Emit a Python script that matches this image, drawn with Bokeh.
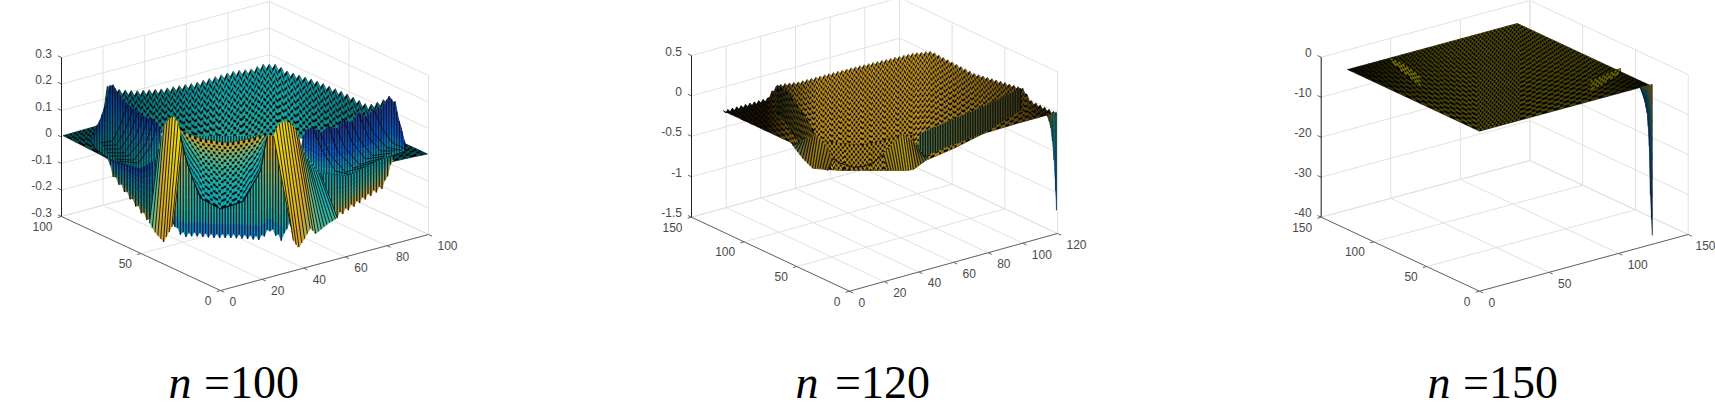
from bokeh.embed import file_html
from bokeh.models import Range1d
from bokeh.plotting import figure
from bokeh.resources import INLINE
import numpy as np

# ---------------- axis content ----------------
a_xticks, a_yticks, a_zticks = [0, 20, 40, 60, 80, 100], [0, 50, 100], [-0.3, -0.2, -0.1, 0, 0.1, 0.2, 0.3]
a_ztext = ["-0.3", "-0.2", "-0.1", "0", "0.1", "0.2", "0.3"]
b_xticks, b_yticks, b_zticks = [0, 20, 40, 60, 80, 100, 120], [0, 50, 100, 150], [-1.5, -1, -0.5, 0, 0.5]
b_ztext = ["-1.5", "-1", "-0.5", "0", "0.5"]
c_xticks, c_yticks, c_zticks = [0, 50, 100, 150], [0, 50, 100, 150], [-40, -30, -20, -10, 0]
c_ztext = ["-40", "-30", "-20", "-10", "0"]
captions = ["=100", "=120", "=150"]

# ---------------- n = 100: surface values ----------------
# s < 0: along the edge x = 0 (y = -s); s > 0: along the edge y = 0 (x = s)
# b < 0: along the edge y = ymax; b > 0: along the edge x = xmax
a_plateau_b = [-81, -78, -76, -73, -65, -52, -36, -17, -9, -3, 4, 11, 30, 48, 62, 70, 76, 79, 84]
a_plateau_z = [.021, .146, .154, .123, .100, .080, .069, .074, .064, .070, .075, .069, .084, .088, .082, .12, .156, .146, .028]
a_plateau_ls = [-75, -25, 1, 22, 58, 88]
a_plateau_lz = [.13, .21, .22, .24, .14, .07]
a_plateau_cs = [-80, -60, -35, 0, 30, 60, 88]
a_plateau_ct = [.5, .46, .5, .52, .52, .5, .46]
a_plateau_cb = [.5, .5, .55, .6, .58, .52, .48]
a_plateau_sh = [.5, .6, .75, .95, .95, .72, .5]

a_ltip_us = [-99, -75.5, -60]
a_ltip_uz = [.008, .114, .173]
a_ltip_ls = [-99, -71, -60]
a_ltip_lz = [.008, .0, .003]
a_rtip_us = [73, 77, 89, 99.5]
a_rtip_uz = [.13, .113, .065, .005]
a_rtip_ls = [73, 88, 99.5]
a_rtip_lz = [.014, .01, .005]

a_lwing_us = [-81, -78.6, -75.5, -71.7, -69.2, -66, -61, -54.7, -48.4, -39.6, -35.8]
a_lwing_uz = [.035, .094, .136, .215, .290, .276, .245, .232, .223, .222, .164]
a_lwing_ls = [-81, -78.6, -71, -59.7, -50.3, -44, -39.6, -35.8]
a_lwing_lz = [.03, .015, .0, .003, .018, .054, .089, .157]
a_lwing_arcs = [([-39.6, -44, -51.6, -64.2], [.222, .122, .037, .009]),
                ([-42.5, -47, -54.5, -66], [.22, .122, .04, .012]),
                ([-45.9, -50.3, -57.9, -69.2], [.219, .124, .046, .014]),
                ([-49, -53.5, -60.5, -71], [.22, .13, .05, .022]),
                ([-52.2, -56.6, -62.9, -73], [.224, .136, .058, .03]),
                ([-55.3, -59.7, -65.5, -74], [.23, .14, .066, .04]),
                ([-58.5, -62.9, -67.9, -75.5], [.237, .149, .075, .046])]

a_rwing_us = [38.5, 40.4, 44.2, 48, 51.9, 55.8, 59.1, 63, 66.3, 69.7, 73.6, 77.4, 80.8, 83.2, 85.1, 88.9]
a_rwing_uz = [.145, .217, .223, .192, .211, .192, .222, .199, .230, .208, .226, .221, .263, .239, .186, .065]
a_rwing_ls = [38.5, 43.3, 48, 61, 75.5, 88.9]
a_rwing_lz = [.145, .078, .041, .003, .029, .038]
a_rwing_arcs = [([44.2, 49, 55.3, 63.5], [.223, .123, .034, .001]),
                ([48, 52.5, 60, 72], [.192, .105, .02, .02]),
                ([51.9, 56.2, 63.9, 75.5], [.211, .108, .027, .029]),
                ([55.8, 60, 66.8, 78], [.192, .11, .035, .035]),
                ([59.1, 63.5, 69.7, 79.3], [.222, .122, .049, .04]),
                ([63, 67, 73, 82], [.199, .125, .055, .045]),
                ([66.3, 70.7, 76.9, 84.1], [.23, .134, .064, .049]),
                ([69.7, 74, 80, 87], [.208, .135, .07, .045]),
                ([73.6, 77.9, 82.7, 88.9], [.226, .145, .082, .046])]

a_under_us = [-71, -50.3, -39.6, -34.6, 0, 26.4, 38.5, 48, 61, 75.5, 83.2]
a_under_uz = [.0, .018, .089, .186, .283, .227, .145, .041, .003, .029, .032]
a_under_ls = [-71, -67.3, -54.7, -42.1, -35.8, -29.6, -26.4, -22, -17, -4.4, 0, 6.25, 19.2, 24, 29.8, 32.7, 37.5, 43.3, 45.7, 51.4, 55.3, 61, 70.7, 78.4, 83.2]
a_under_lz = [.0, -.063, -.126, -.182, -.217, -.132, -.160, -.160, -.142, -.114, -.102, -.115, -.150, -.126, -.18, -.118, -.219, -.155, -.183, -.158, -.147, -.129, -.10, -.079, .02]
a_under_cs = [-71, -45, -36, -25, -15, 0, 15, 22, 28, 40, 50, 65, 83]
a_under_ct = [.06, .08, .85, .88, .6, .55, .6, .88, .88, .55, .5, .45, .5]
a_under_cm = [.55, .6, .6, .62, .55, .5, .55, .62, .6, .55, .72, .78, .8]
a_under_cb = [.85, .85, .3, .2, .18, .18, .18, .2, .28, .82, .87, .88, .86]
a_under_sh = [.7, .72, .95, 1, 1, 1, 1, 1, .95, 1, .95, .9, .85]

a_rlobe_us = [25.5, 27.9, 30.3, 33.7, 36.5, 39.4, 43.3, 48]
a_rlobe_uz = [.229, .269, .275, .261, .225, .154, .078, .041]
a_rlobe_ls = [33.7, 35.1, 37.5, 40.9, 43.3, 45.7, 51.4, 56.2]
a_rlobe_lz = [-.128, -.188, -.219, -.185, -.155, -.183, -.158, -.145]
a_rlobe_cs = [25.5, 30, 36, 41, 48]
a_rlobe_ct = [.95, .98, .88, .62, .47]
a_rlobe_cm = [.95, .92, .85, .62, .47]
a_rlobe_cb = [.85, .85, .75, .62, .65]

a_llobe_us = [-39, -35.8, -30.2, -27, -23.9]
a_llobe_uz = [.125, .221, .274, .264, .197]
a_llobe_ls = [-44.7, -40.9, -35.8, -32.7, -29.6]
a_llobe_lz = [-.17, -.197, -.217, -.174, -.132]
a_llobe_cs = [-39, -35, -30, -24]
a_llobe_ct = [.62, .85, .98, .98]
a_llobe_cm = [.6, .85, .95, .95]
a_llobe_cb = [.7, .82, .85, .85]

a_arch_us = [-25.2, -12.6, 0, 3.4, 14.4, 22.6]
a_arch_uz = [.232, .237, .26, .249, .241, .243]
a_arch_ls = [-25.2, -21.4, -17.6, -12.6, 0, 11, 19.2, 21.6, 22.6]
a_arch_lz = [.213, .129, .075, .014, .008, .014, .11, .207, .235]

# ---------------- n = 120 ----------------
b_plateau_b = [-119.8, -94.4, -91.6, -88.8, -83, -77.3, -46.7, -10.3, 0, 40.3, 72.6, 87.8, 94.4, 118]
b_plateau_z = [0, .004, .085, .131, .121, .10, .092, .061, .024, -.004, .068, .099, -.01, -.015]
b_plateau_ls = [-119.7, -56, -46.5, -34.2, -22.8, -8.5, 2.3, 31.2, 36.9, 43.9, 60, 77.3, 96.9, 118.9]
b_plateau_lz = [0, 0, -.078, -.189, -.132, -.058, -.02, -.192, -.213, -.144, -.092, -.009, 0, 0]
b_plateau_cs = [-120, -80, -68, -55, -30, 40, 80, 100, 112, 119]
b_plateau_ct = [.86, .86, .86, .86, .86, .86, .86, .86, .86, .86]
b_plateau_cb = [.86, .86, .86, .86, .86, .86, .86, .86, .86, .86]
b_plateau_sh = [.08, .12, .3, .55, .85, .85, .6, .4, .2, .08]

b_front_us = [-32.3, -8.5, 6.3, 17.9, 29.4, 38.1]
b_front_uz = [.168, .276, .266, .246, .252, .2]
b_front_ls = [-34.2, -8.5, 2.3, 31.2, 36.9]
b_front_lz = [-.189, -.058, -.02, -.192, -.213]
b_bowl_s = [-18, -8.5, 2.3, 8.1, 13.8, 20.8]
b_bowl_z = [.046, .029, .017, -.005, .011, .093]

b_llobe_us = [-49.4, -39.9, -30.4, -22.8, -16.1]
b_llobe_uz = [.027, .147, .243, .165, .045]
b_llobe_ls = [-54.1, -44.6, -35.1, -27.5, -20.9]
b_llobe_lz = [-.026, -.129, -.194, -.149, -.134]
b_rlobe_us = [19.6, 25.4, 31.2, 36.4, 42.7]
b_rlobe_uz = [.088, .189, .254, .149, -.074]
b_rlobe_ls = [22.5, 28.3, 34, 36.9, 45.6]
b_rlobe_lz = [-.14, -.175, -.209, -.213, -.129]
b_rwing_us = [38, 41, 58.3, 78.5, 98.7]
b_rwing_uz = [-.05, .208, .266, .33, .421]
b_rwing_ls = [38, 41, 58.3, 77.3, 104.4]
b_rwing_lz = [-.06, -.101, -.043, -.009, .189]

b_lwing_us = [-68.4, -58.9, -49.4, -39.9, -32.3]
b_lwing_uz = [.63, .60, .50, .37, .23]
b_lwing_ls = [-68.4, -58.9, -49.4, -39.9, -32.3]
b_lwing_lz = [.296, .193, .064, -.026, -.141]

b_spike_us = [114.3, 117.1, 119.4]
b_spike_uz = [.006, .002, .001]
b_spike_ls = [114.3, 116, 117.7, 118.9, 119.4]
b_spike_lz = [-.019, -.14, -.459, -.962, -1.21]

# ---------------- n = 150 ----------------
c_plane_b = [-122, 0, 125]
c_plane_z = [0, 0, 0]
c_plane_ls = [-125, 0, 122]
c_plane_lz = [0, 0, 0]
c_plane_cs = [-125, -100, -70, -40, 0, 40, 80, 105, 122]
c_plane_sh = [.06, .14, .26, .34, .38, .36, .32, .16, .06]
c_lstreak_us = [-84.4, -74.9, -65.4, -55.9]
c_lstreak_uz = [7.8, 7.95, 7.6, 6.8]
c_lstreak_ls = [-84.4, -74.9, -65.4, -55.9]
c_lstreak_lz = [7.3, 5.95, 5.1, 4.3]
c_rstreak_us = [79.8, 87, 94.2, 101.4]
c_rstreak_uz = [5.1, 5.45, 5.8, 6.1]
c_rstreak_ls = [79.8, 87, 94.2, 101.4]
c_rstreak_lz = [2.6, 3.2, 4.0, 5.1]
c_spike_us = [115.7, 119.3, 122.6, 124.2]
c_spike_uz = [0, 0, 0, 0]
c_spike_ls = [115.7, 118.6, 120.8, 122.2, 122.9, 124.2]
c_spike_lz = [-.25, -3.5, -7.5, -16.4, -29, -37.8]

# ---------------- drawing helpers ----------------
STOPS = np.array([[53, 42, 135], [3, 99, 225], [20, 133, 212], [6, 167, 198], [30, 178, 170], [107, 187, 136], [221, 168, 42], [240, 224, 16]], float)

def parula(v, shade=1.0):
    v = float(np.clip(v, 0, 1)) * 7
    i = min(int(v), 6)
    c = (STOPS[i] + (STOPS[i + 1] - STOPS[i]) * (v - i)) * shade
    return "#%02x%02x%02x" % tuple(int(k) for k in c)

p = figure(width=1715, height=407, x_range=Range1d(0, 1715), y_range=Range1d(407, 0), x_axis_type=None, y_axis_type=None,
           toolbar_location=None, output_backend="svg", min_border=0, outline_line_color=None)
p.grid.visible = False

class Panel:
    def __init__(s, front, right, left, h, xlim, ylim, zlim, xm, ym):
        s.h, s.xlim, s.ylim, s.zlim, s.xm, s.ym = h, xlim, ylim, zlim, xm, ym
        s.f, s.r, s.l = np.array(front, float), np.array(right, float), np.array(left, float)
    def proj(s, x, y, z):
        x, y, z = np.asarray(x, float), np.asarray(y, float), np.asarray(z, float)
        ex, ey = (s.r - s.f) / s.xlim, (s.l - s.f) / s.ylim
        return s.f[0] + x * ex[0] + y * ey[0], s.f[1] + x * ex[1] + y * ey[1] - (z - s.zlim[0]) / (s.zlim[1] - s.zlim[0]) * s.h
    def front(s, a, z):
        a = np.asarray(a, float)
        return s.proj(np.maximum(a, 0), np.maximum(-a, 0), z)
    def back(s, a, z):
        a = np.asarray(a, float)
        return s.proj(s.xm + np.minimum(a, 0), s.ym - np.maximum(a, 0), z)

def curtain(P, U, L, cs, ct, cm=None, cb=None, sh=None, step=2.8, cell=None, lean=0, lw=1.0, alpha=.85, ufn="front",
            outline=False, fill=1.0, midf=.5, jag=0, bjag=0):
    ux, uy = getattr(P, ufn)(U[0], U[1])
    lx, ly = P.front(L[0], L[1])
    cx, _ = P.front(cs, np.zeros(len(cs)))
    ct = np.asarray(ct, float)
    cb = ct if cb is None else np.asarray(cb, float)
    cm = (ct + cb) / 2 if cm is None else np.asarray(cm, float)
    sh = np.ones(len(cs)) if sh is None else np.asarray(sh, float)
    x0, x1 = max(ux[0], lx[0] - lean), min(ux[-1], lx[-1] - lean)
    X = np.arange(x0, x1, step)
    if x1 - X[-1] > .2:
        X = np.append(X, x1)
    T, B = np.interp(X, ux, uy), np.interp(X + lean, lx, ly)
    T = T + jag * (np.arange(len(X)) % 2)
    B = B - np.minimum(bjag * (np.arange(len(X)) % 2), np.maximum(B - T, 0) * .3)
    vt, vm, vb, vs = (np.interp(X, cx, a) for a in (ct, cm, cb, sh))
    xs, ys, cols = [], [], []
    if cell:
        p.patch(list(X) + list(X[::-1] + lean), list(T) + list(B[::-1]), fill_color="#050505", line_color="#050505", line_width=.5)
    for i in range(len(X) - 1):
        H = max(B[i] - T[i], B[i + 1] - T[i + 1])
        n = max(2, int(round(H / cell))) if cell else 8
        for k in range(n):
            if cell and (i + k) % 2:
                continue
            f0, f1 = k / n, min(1, (k + fill) / n)
            xs.append([X[i] + f0 * lean, X[i + 1] + f0 * lean, X[i + 1] + f1 * lean, X[i] + f1 * lean])
            ys.append([T[i] + f0 * (B[i] - T[i]), T[i + 1] + f0 * (B[i + 1] - T[i + 1]), T[i + 1] + f1 * (B[i + 1] - T[i + 1]), T[i] + f1 * (B[i] - T[i])])
            fm = (f0 + f1) / 2
            v = vt[i] + (vm[i] - vt[i]) * fm / midf if fm < midf else vm[i] + (vb[i] - vm[i]) * (fm - midf) / (1 - midf)
            cols.append(parula(v, vs[i]))
    p.patches(xs, ys, fill_color=cols, line_color=cols, line_width=.3)
    if not cell:
        p.multi_line([[a, a + lean] for a in X], [[t, b] for t, b in zip(T, B)], line_color="#0a0a0a", line_width=lw, line_alpha=alpha)
    if outline:
        p.line(lx, ly, line_color="#111111", line_width=1.1)

def arcs(P, items, width=1.0):
    pts = [P.front(a, z) for a, z in items]
    p.multi_line([list(map(float, q[0])) for q in pts], [list(map(float, q[1])) for q in pts], line_color="#0a0a0a", line_width=width, line_alpha=.8)

def frame(P, xt, yt, zt, ztext):
    grid, gx, gy = "#e1e1e1", [], []
    xl, yl, z0, z1 = P.xlim, P.ylim, P.zlim[0], P.zlim[1]
    def seg(a, b):
        ax, ay = P.proj(*a); bx, by = P.proj(*b)
        gx.append([float(ax), float(bx)]); gy.append([float(ay), float(by)])
    for x in xt:
        seg((x, yl, z0), (x, yl, z1)); seg((x, 0, z0), (x, yl, z0))
    for y in yt:
        seg((xl, y, z0), (xl, y, z1)); seg((0, y, z0), (xl, y, z0))
    for z in zt:
        seg((0, yl, z), (xl, yl, z)); seg((xl, 0, z), (xl, yl, z))
    p.multi_line(gx, gy, line_color=grid, line_width=1)
    ax_x, ax_y = [], []
    for a, b in (((0, yl, z0), (0, 0, z0)), ((0, 0, z0), (xl, 0, z0))):
        u, v = P.proj(*a), P.proj(*b)
        ax_x.append([float(u[0]), float(v[0])]); ax_y.append([float(u[1]), float(v[1])])
    ey = (P.l - P.f) / np.hypot(*(P.l - P.f)) * 4
    ex = (P.r - P.f) / np.hypot(*(P.r - P.f)) * 4
    for z in zt:
        u = P.proj(0, yl, z)
        ax_x.append([float(u[0]), float(u[0] + ey[0])]); ax_y.append([float(u[1]), float(u[1] + ey[1])])
    for x in xt:
        u = P.proj(x, 0, z0)
        ax_x.append([float(u[0]), float(u[0] - ey[0])]); ax_y.append([float(u[1]), float(u[1] - ey[1])])
    for y in yt:
        u = P.proj(0, y, z0)
        ax_x.append([float(u[0]), float(u[0] - ex[0])]); ax_y.append([float(u[1]), float(u[1] - ex[1])])
    p.multi_line(ax_x, ax_y, line_color="#666666", line_width=1)
    u, v = P.proj(0, yl, z0), P.proj(0, yl, z1)
    p.line([float(u[0]), float(v[0])], [float(u[1]), float(v[1])], line_color="#222222", line_width=1)
    font = dict(text_color="#4a4a4a", text_font_size="12px", text_baseline="middle", text_font={"value": "Liberation Sans"})
    zx, zy = P.proj(np.zeros(len(zt)), np.full(len(zt), yl), zt)
    p.text(zx - 9.5, zy - 4.5, text=ztext, text_align="right", **font)
    yx, yy = P.proj(np.zeros(len(yt)), yt, np.full(len(yt), z0))
    p.text(yx - 9, yy + 10, text=[str(v) for v in yt], text_align="right", **font)
    xx, xy = P.proj(xt, np.zeros(len(xt)), np.full(len(xt), z0))
    p.text(np.minimum(xx + 9, 1715 - 20), xy + 11, text=[str(v) for v in xt], text_align="left", **font)

A = Panel((220, 290), (428, 234), (61, 216), 159, 100, 100, (-.3, .3), 100, 100)
B = Panel((849, 290.7), (1057, 233), (691, 216.7), 161.7, 120, 150, (-1.5, .5), 120, 120)
C = Panel((1479, 290.7), (1687.7, 234), (1320.7, 216.7), 160, 150, 150, (-40, 0), 122, 125)

frame(A, a_xticks, a_yticks, a_zticks, a_ztext)
frame(B, b_xticks, b_yticks, b_zticks, b_ztext)
frame(C, c_xticks, c_yticks, c_zticks, c_ztext)

# n = 100
curtain(A, (a_plateau_b, a_plateau_z), (a_plateau_ls, a_plateau_lz), a_plateau_cs, a_plateau_ct, cb=a_plateau_cb, sh=a_plateau_sh, step=3.0, cell=3.6, ufn="back", fill=1.15, jag=5)
curtain(A, (a_ltip_us, a_ltip_uz), (a_ltip_ls, a_ltip_lz), [-99, -60], [.5, .5], sh=[.45, .55], step=2.2, cell=2.6)
curtain(A, (a_rtip_us, a_rtip_uz), (a_rtip_ls, a_rtip_lz), [73, 99], [.5, .5], sh=[.55, .45], step=2.2, cell=2.6)
curtain(A, (a_lwing_us, a_lwing_uz), (a_lwing_ls, a_lwing_lz), [-81, -36], [.05, .06], cm=[.34, .3], cb=[.54, .5], sh=[.62, .78], step=2.6, outline=True)
arcs(A, a_lwing_arcs)
curtain(A, (a_rwing_us, a_rwing_uz), (a_rwing_ls, a_rwing_lz), [38, 89], [.04, .04], cm=[.14, .14], cb=[.5, .52], sh=[.95, .9], step=2.6, outline=True, midf=.55)
arcs(A, a_rwing_arcs)
curtain(A, (a_under_us, a_under_uz), (a_under_ls, a_under_lz), a_under_cs, a_under_ct, cm=a_under_cm, cb=a_under_cb, sh=a_under_sh, step=2.8, lw=1.3, midf=.8, bjag=4)
curtain(A, (a_llobe_us, a_llobe_uz), (a_llobe_ls, a_llobe_lz), a_llobe_cs, a_llobe_ct, cm=a_llobe_cm, cb=a_llobe_cb, step=2.8, lean=-9)
curtain(A, (a_rlobe_us, a_rlobe_uz), (a_rlobe_ls, a_rlobe_lz), a_rlobe_cs, a_rlobe_ct, cm=a_rlobe_cm, cb=a_rlobe_cb, step=2.8, lean=17)
curtain(A, (a_arch_us, a_arch_uz), (a_arch_ls, a_arch_lz), [-25, 23], [.86, .86], cm=[.62, .62], cb=[.48, .48], step=2.7, cell=3.2, outline=True, fill=1.2, midf=.4)

# n = 120
curtain(B, (b_plateau_b, b_plateau_z), (b_plateau_ls, b_plateau_lz), b_plateau_cs, b_plateau_ct, cb=b_plateau_cb, sh=b_plateau_sh, step=2.2, cell=2.8, ufn="back", fill=1.1, jag=3)
curtain(B, (b_lwing_us, b_lwing_uz), (b_lwing_ls, b_lwing_lz), [-68, -32], [.8, .86], sh=[.2, .5], step=2.6, cell=3, fill=1.2)
curtain(B, (b_rwing_us, b_rwing_uz), (b_rwing_ls, b_rwing_lz), [38, 60, 99], [.72, .76, .82], sh=[.65, .55, .35], step=2.5, lw=1.4, alpha=.85)
curtain(B, (b_front_us, b_front_uz), (b_front_ls, b_front_lz), [-32, 39], [.88, .88], sh=[.8, .8], step=2.2, cell=2.8, fill=1.05, bjag=2)
arcs(B, [(b_bowl_s, b_bowl_z)], 1.2)
curtain(B, (b_llobe_us, b_llobe_uz), (b_llobe_ls, b_llobe_lz), [-49, -30, -16], [.74, .92, .86], sh=[.6, .72, .6], step=2.5, lean=-5, lw=1.2)
curtain(B, (b_rlobe_us, b_rlobe_uz), (b_rlobe_ls, b_rlobe_lz), [20, 31, 43], [.92, .95, .72], sh=[.72, .82, .6], step=2.5, lean=5, lw=1.2)
curtain(B, (b_spike_us, b_spike_uz), (b_spike_ls, b_spike_lz), [114, 117, 120], [.86, .8, .1], cm=[.86, .6, .33], cb=[.8, .3, .05], sh=[.4, .6, 1], step=1.6, lw=.7)

# n = 150
curtain(C, (c_plane_b, c_plane_z), (c_plane_ls, c_plane_lz), c_plane_cs, [1] * 9, sh=c_plane_sh, step=2.0, cell=2.3, ufn="back", fill=.8)
curtain(C, (c_lstreak_us, c_lstreak_uz), (c_lstreak_ls, c_lstreak_lz), [-84, -56], [1, 1], sh=[.55, .5], step=2.0, cell=2.2)
curtain(C, (c_rstreak_us, c_rstreak_uz), (c_rstreak_ls, c_rstreak_lz), [80, 101], [1, 1], sh=[.45, .5], step=2.0, cell=2.2)
curtain(C, (c_spike_us, c_spike_uz), (c_spike_ls, c_spike_lz), [115, 124], [.9, .9], cm=[.3, .45], cb=[.1, .0], sh=[.45, .55], step=1.1, lw=.5)

# captions
cap = dict(text_font={"value": "Liberation Serif"}, text_font_size="46px", text_baseline="alphabetic", text_color="#000000")
p.text([168, 795, 1427], [382, 382, 382], text=["n", "n", "n"], text_font_style="italic", **cap)
p.text([203.6, 834.6, 1462.6], [382, 382, 382], text=captions, **cap)

open("out.html", "w").write(file_html(p, INLINE))
